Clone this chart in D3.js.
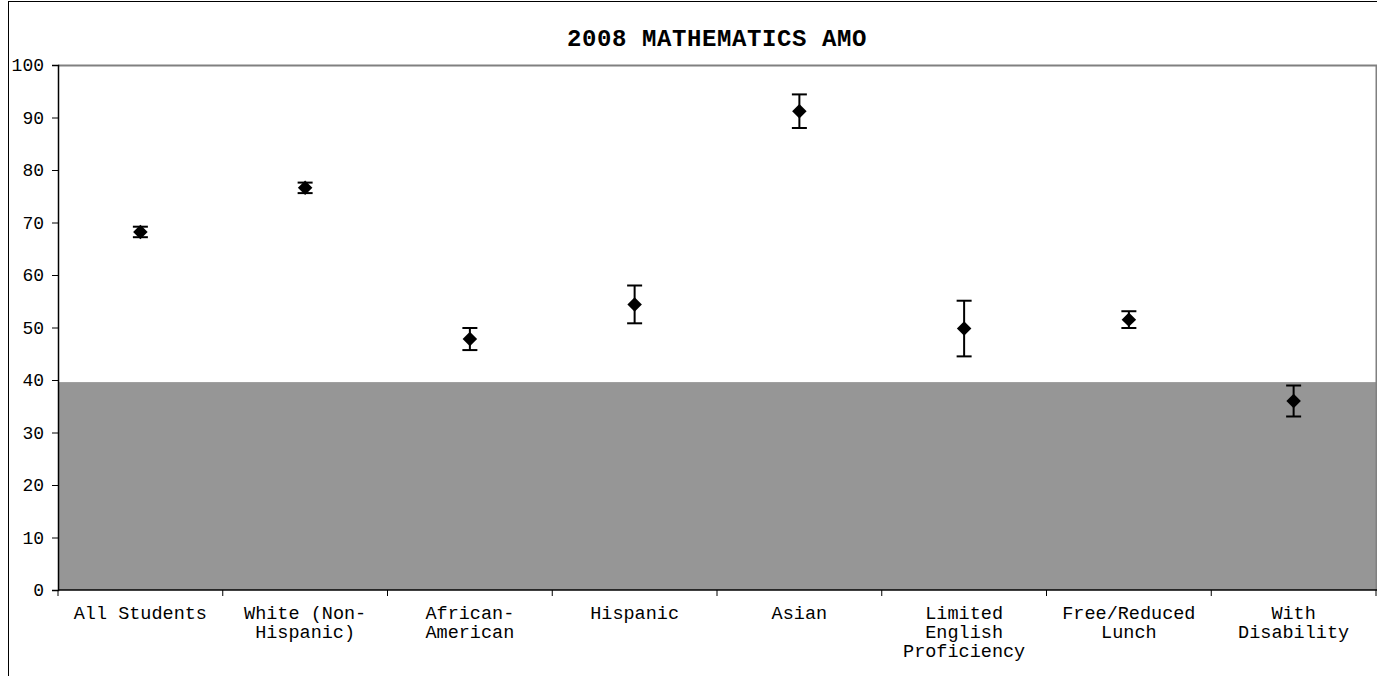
<!DOCTYPE html>
<html>
<head>
<meta charset="utf-8">
<script src="https://cdn.jsdelivr.net/npm/d3@7"></script>
<style>
  body { margin: 0; background: #fff; }
  text { font-family: "Courier New", "Liberation Mono", monospace; fill: #000; }
</style>
</head>
<body>
<script>
var categories = [
    ["All Students"],
    ["White (Non-", "Hispanic)"],
    ["African-", "American"],
    ["Hispanic"],
    ["Asian"],
    ["Limited", "English", "Proficiency"],
    ["Free/Reduced", "Lunch"],
    ["With", "Disability"]
];
var means = [68.2, 76.6, 47.8, 54.4, 91.2, 49.8, 51.5, 36.0];
var margins = [1.0, 1.0, 2.1, 3.6, 3.2, 5.3, 1.6, 2.95];
var amo = 39.6;
var yTicks = [0, 10, 20, 30, 40, 50, 60, 70, 80, 90, 100];
var title = "2008 MATHEMATICS AMO";

var width = 1377, height = 676;
var plotLeft = 58, plotRight = 1376, plotTop = 65, plotBottom = 590;
var fontMono = "'Courier New','Liberation Mono',monospace";

var svg = d3.select("body").append("svg")
    .attr("width", width).attr("height", height);

// outer chart frame
svg.append("rect")
    .attr("x", 8.5).attr("y", 1.5)
    .attr("width", 1400).attr("height", 700)
    .attr("fill", "none").attr("stroke", "#000").attr("stroke-width", 1);

var keys = categories.map(function(d) { return d.join(" "); });
var x = d3.scaleBand().domain(keys).range([plotLeft, plotRight]).padding(0);
var y = d3.scaleLinear().domain([0, 100]).range([plotBottom, plotTop]);

// AMO band
svg.append("rect")
    .attr("x", plotLeft).attr("y", y(amo))
    .attr("width", plotRight - plotLeft).attr("height", y(0) - y(amo))
    .attr("fill", "#969696");

// plot area border (top/right gray)
svg.append("path")
    .attr("d", "M" + plotLeft + "," + (plotTop + 0.5) + "H" + (plotRight + 0.5) + "V" + plotBottom)
    .attr("fill", "none").attr("stroke", "#808080").attr("stroke-width", 2);

svg.append("text")
    .attr("x", (plotLeft + plotRight) / 2).attr("y", 46)
    .attr("text-anchor", "middle")
    .attr("font-weight", "bold")
    .attr("font-size", "24px")
    .attr("letter-spacing", "0.6px")
    .text(title);

// y axis
var yAxis = svg.append("g")
    .attr("transform", "translate(" + plotLeft + ",0)")
    .call(d3.axisLeft(y).tickValues(yTicks).tickSize(6).tickPadding(8));
yAxis.select(".domain").attr("stroke", "#000").attr("stroke-width", 1.5);
yAxis.selectAll(".tick line").attr("stroke", "#000");
yAxis.selectAll("text").attr("font-size", "18px").style("font-family", fontMono);

// x axis line + ticks at band edges
svg.append("line")
    .attr("x1", plotLeft).attr("x2", plotRight + 1)
    .attr("y1", plotBottom).attr("y2", plotBottom)
    .attr("stroke", "#000").attr("stroke-width", 1.5);

var edges = keys.map(function(k) { return x(k); }).concat([plotRight]);
svg.selectAll(".xtick").data(edges).enter().append("line")
    .attr("class", "xtick")
    .attr("x1", function(d) { return d; }).attr("x2", function(d) { return d; })
    .attr("y1", plotBottom).attr("y2", plotBottom + 6)
    .attr("stroke", "#000");

var labels = svg.selectAll(".xlabel").data(categories).enter().append("text")
    .attr("class", "xlabel")
    .attr("text-anchor", "middle")
    .attr("font-size", "18.5px")
    .attr("x", function(d, i) { return x(keys[i]) + x.bandwidth() / 2; })
    .attr("y", 619);
labels.selectAll("tspan").data(function(d) { return d; }).enter().append("tspan")
    .attr("x", function() { return d3.select(this.parentNode).attr("x"); })
    .attr("dy", function(d, i) { return i === 0 ? 0 : 19; })
    .text(function(d) { return d; });

// error bars
var cx = function(d, i) { return x(keys[i]) + x.bandwidth() / 2; };
var cap = 7.5;
var bars = svg.selectAll(".err").data(means).enter().append("g").attr("class", "err");
bars.append("line")
    .attr("x1", cx).attr("x2", cx)
    .attr("y1", function(d, i) { return y(d + margins[i]); })
    .attr("y2", function(d, i) { return y(d - margins[i]); })
    .attr("stroke", "#000").attr("stroke-width", 2);
bars.append("line")
    .attr("x1", function(d, i) { return cx(d, i) - cap; })
    .attr("x2", function(d, i) { return cx(d, i) + cap; })
    .attr("y1", function(d, i) { return y(d + margins[i]); })
    .attr("y2", function(d, i) { return y(d + margins[i]); })
    .attr("stroke", "#000").attr("stroke-width", 2);
bars.append("line")
    .attr("x1", function(d, i) { return cx(d, i) - cap; })
    .attr("x2", function(d, i) { return cx(d, i) + cap; })
    .attr("y1", function(d, i) { return y(d - margins[i]); })
    .attr("y2", function(d, i) { return y(d - margins[i]); })
    .attr("stroke", "#000").attr("stroke-width", 2);

// diamond markers
var diamond = d3.symbol().type(d3.symbolSquare).size(105);
svg.selectAll(".pt").data(means).enter().append("path")
    .attr("class", "pt")
    .attr("d", diamond)
    .attr("transform", function(d, i) { return "translate(" + cx(d, i) + "," + y(d) + ") rotate(45)"; })
    .attr("fill", "#000");
</script>
</body>
</html>
